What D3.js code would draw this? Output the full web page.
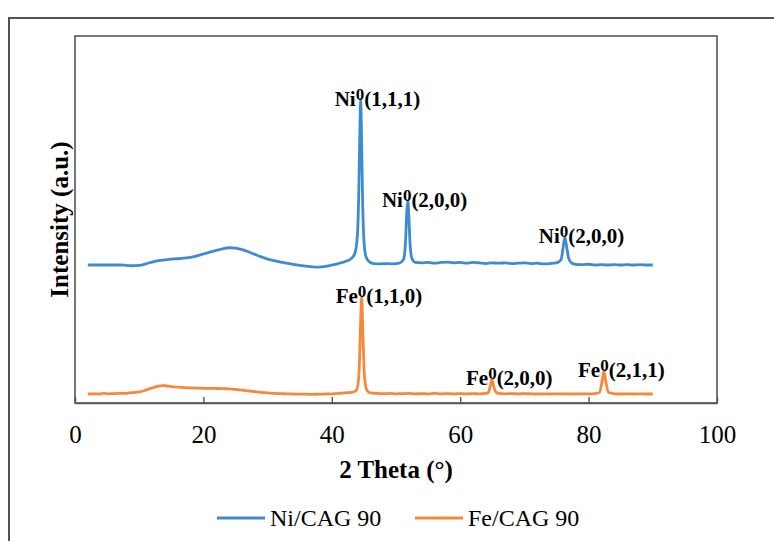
<!DOCTYPE html>
<html>
<head>
<meta charset="utf-8">
<script src="https://cdn.jsdelivr.net/npm/d3@7"></script>
<style>
  html, body { margin: 0; padding: 0; background: #fff; }
  svg { display: block; }
  svg text { font-family: "Liberation Serif", "DejaVu Serif", serif; }
</style>
</head>
<body>
<svg id="chart" width="774" height="541"></svg>
<script>
// X-ray diffraction patterns, intensity in arbitrary units (patterns offset vertically)
const xTicks = [0, 20, 40, 60, 80, 100];
const seriesNames = ["Ni/CAG 90", "Fe/CAG 90"];
const seriesColors = ["#3d8bd2", "#f7883a"];
const FONT = "'Liberation Serif', 'DejaVu Serif', serif";

const niPattern = [
  [2,37.6],[3,37.6],[4,37.6],[5,37.6],[6,37.6],[7,37.6],[8,37.5],[9,37.4],[10,37.5],
  [11,37.9],[12,38.4],[13,38.8],[14,39.0],[15,39.2],[16,39.3],[17,39.5],[18,39.7],
  [19,40.1],[20,40.6],[21,41.1],[22,41.6],[23,42.0],[24,42.3],[25,42.2],[26,41.8],
  [27,41.2],[28,40.5],[29,39.8],[30,39.2],[31,38.8],[32,38.4],[33,38.1],[34,37.8],
  [35,37.5],[36,37.3],[37,37.1],[38,37.0],[39,37.2],[40,37.6],[41,38.0],[42,38.5],
  [43,39.3],[43.6,40.8],[44.0,46],[44.2,57],[44.4,77],[44.5,82.6],[44.6,76],[44.8,55],
  [45.0,44.5],[45.3,40.0],[45.8,38.5],[46.5,38.0],[47.5,37.9],[48.5,38.0],[49.5,37.9],
  [50.5,38.1],[51.2,39.2],[51.5,44.5],[51.7,52.8],[51.85,55.0],[52.0,51.0],[52.2,43.0],
  [52.5,39.3],[53,38.3],[54,38.2],[55,38.3],[56,38.1],[57,38.3],[58,38.4],[59,38.2],
  [60,38.3],[61,38.1],[62,38.3],[63,38.2],[64,38.0],[65,38.2],[66,38.1],[67,38.2],
  [68,38.0],[69,38.1],[70,38.2],[71,38.0],[72,38.1],[73,37.9],[74,38.0],[75,38.2],
  [75.7,39.0],[76.0,42.0],[76.3,45.2],[76.6,42.4],[76.9,39.4],[77.4,38.1],[78,37.8],
  [79,37.7],[80,37.8],[81,37.6],[82,37.7],[83,37.6],[84,37.7],[85,37.6],[86,37.7],
  [87,37.6],[88,37.7],[89,37.6],[90,37.6]
];

const fePattern = [
  [2,2.45],[3,2.5],[4,2.45],[4.5,2.7],[5,2.5],[6,2.55],[7,2.6],[8,2.65],[9,2.8],
  [10,3.0],[11,3.5],[12,4.1],[13,4.6],[13.6,4.75],[14,4.7],[15,4.45],[16,4.3],
  [17,4.2],[18,4.1],[19,4.05],[20,4.0],[21,4.0],[22,3.95],[23,3.9],[24,3.85],
  [25,3.7],[26,3.5],[27,3.3],[28,3.1],[29,2.9],[30,2.75],[31,2.6],[32,2.55],
  [33,2.5],[34,2.45],[35,2.4],[36,2.4],[37,2.35],[38,2.4],[39,2.45],[40,2.5],
  [41,2.6],[42,2.75],[43,2.9],[43.8,3.4],[44.2,7.0],[44.45,19.5],[44.65,28.9],
  [44.85,18.5],[45.1,7.0],[45.5,3.4],[46,2.75],[47,2.6],[48,2.55],[49,2.6],[50,2.5],
  [51,2.55],[52,2.6],[53,2.5],[54,2.55],[55,2.5],[56,2.6],[57,2.5],[58,2.55],
  [59,2.5],[60,2.55],[61,2.5],[62,2.55],[63,2.5],[64,2.6],[64.4,2.9],[64.7,4.8],
  [64.95,6.5],[65.2,4.6],[65.6,2.9],[66,2.6],[67,2.5],[68,2.55],[69,2.5],[70,2.55],
  [71,2.5],[72,2.45],[73,2.5],[74,2.45],[75,2.5],[76,2.45],[77,2.5],[78,2.45],
  [79,2.5],[80,2.45],[81,2.55],[81.7,2.9],[82.1,5.9],[82.4,8.7],[82.7,5.6],
  [83.1,2.9],[84,2.5],[85,2.45],[86,2.5],[87,2.45],[88,2.5],[89,2.45],[90,2.45]
];

// Reflection labels: phase, superscript, Miller indices, series index, peak position
const peakPhase = ["Ni", "Ni", "Ni", "Fe", "Fe", "Fe"];
const peakSup = ["0", "0", "0", "0", "0", "0"];
const peakHkl = ["(1,1,1)", "(2,0,0)", "(2,0,0)", "(1,1,0)", "(2,0,0)", "(2,1,1)"];
const peakSeries = [0, 0, 0, 1, 1, 1];
const peakTheta = [44.5, 51.85, 76.3, 44.65, 64.95, 82.4];

const svg = d3.select("#chart");
const plot = { left: 75, right: 717, top: 36, bottom: 403 };

// Outer chart frame (left and top edges visible)
svg.append("rect")
  .attr("x", 9).attr("y", 18)
  .attr("width", 900).attr("height", 700)
  .attr("fill", "none").attr("stroke", "#404040").attr("stroke-width", 1.8);

const x = d3.scaleLinear().domain([0, 100]).range([plot.left, plot.right]);
const y = d3.scaleLinear().domain([0, 100]).range([plot.bottom, plot.top]);

// Plot area box
svg.append("rect")
  .attr("x", plot.left).attr("y", plot.top)
  .attr("width", plot.right - plot.left).attr("height", plot.bottom - plot.top)
  .attr("fill", "none").attr("stroke", "#555").attr("stroke-width", 1.6);

// X axis with inward ticks
const xAxis = d3.axisBottom(x)
  .tickValues(xTicks)
  .tickSizeInner(-6)
  .tickSizeOuter(0)
  .tickPadding(22)
  .tickFormat(d3.format("d"));

const gx = svg.append("g")
  .attr("transform", `translate(0,${plot.bottom})`)
  .call(xAxis)
  .attr("font-family", FONT)
  .attr("font-size", 25);
gx.select(".domain").attr("stroke", "#555").attr("stroke-width", 1.6);
gx.selectAll(".tick line").attr("stroke", "#555").attr("stroke-width", 1.4);
gx.selectAll(".tick text")
  .attr("fill", "#000")
  .attr("font-family", FONT)
  .attr("font-size", 25);

// Axis titles
svg.append("text")
  .attr("x", (plot.left + plot.right) / 2)
  .attr("y", 478)
  .attr("text-anchor", "middle")
  .attr("font-family", FONT)
  .attr("font-size", 25).attr("font-weight", "bold")
  .text("2 Theta (°)");

svg.append("text")
  .attr("transform", `translate(68,${(plot.top + plot.bottom) / 2}) rotate(-90)`)
  .attr("text-anchor", "middle")
  .attr("font-family", FONT)
  .attr("font-size", 25).attr("font-weight", "bold")
  .text("Intensity (a.u.)");

// Diffraction patterns
const line = d3.line()
  .x(d => x(d[0]))
  .y(d => y(d[1]))
  .curve(d3.curveMonotoneX);

const patterns = [niPattern, fePattern];
svg.append("g").selectAll("path")
  .data(patterns)
  .join("path")
  .attr("d", line)
  .attr("fill", "none")
  .attr("stroke", (d, i) => seriesColors[i])
  .attr("stroke-width", 2.8)
  .attr("stroke-linejoin", "round");

// Reflection labels placed at each peak maximum
const peakTop = (s, t) => patterns[s].find(p => p[0] === t)[1];
const labels = svg.append("g").selectAll("text")
  .data(peakPhase.map((ph, i) => i))
  .join("text")
  .attr("x", i => x(peakTheta[i]) - 26)
  .attr("y", i => y(peakTop(peakSeries[i], peakTheta[i])) + 6)
  .attr("font-family", FONT)
  .attr("font-size", 21).attr("font-weight", "bold")
  .attr("fill", "#000");
labels.append("tspan").text(i => peakPhase[i]);
labels.append("tspan")
  .attr("dy", -6)
  .attr("font-size", 17)
  .text(i => peakSup[i]);
labels.append("tspan")
  .attr("dy", 6)
  .text(i => peakHkl[i]);

// Legend
const legend = svg.append("g").attr("transform", "translate(0,518)");
const legendX = [217, 415];
seriesNames.forEach((name, i) => {
  legend.append("line")
    .attr("x1", legendX[i]).attr("x2", legendX[i] + 48)
    .attr("y1", 0).attr("y2", 0)
    .attr("stroke", seriesColors[i]).attr("stroke-width", 2.8);
  legend.append("text")
    .attr("x", legendX[i] + 53).attr("y", 8)
    .attr("font-family", FONT)
    .attr("font-size", 24)
    .attr("fill", "#000")
    .text(name);
});
</script>
</body>
</html>
